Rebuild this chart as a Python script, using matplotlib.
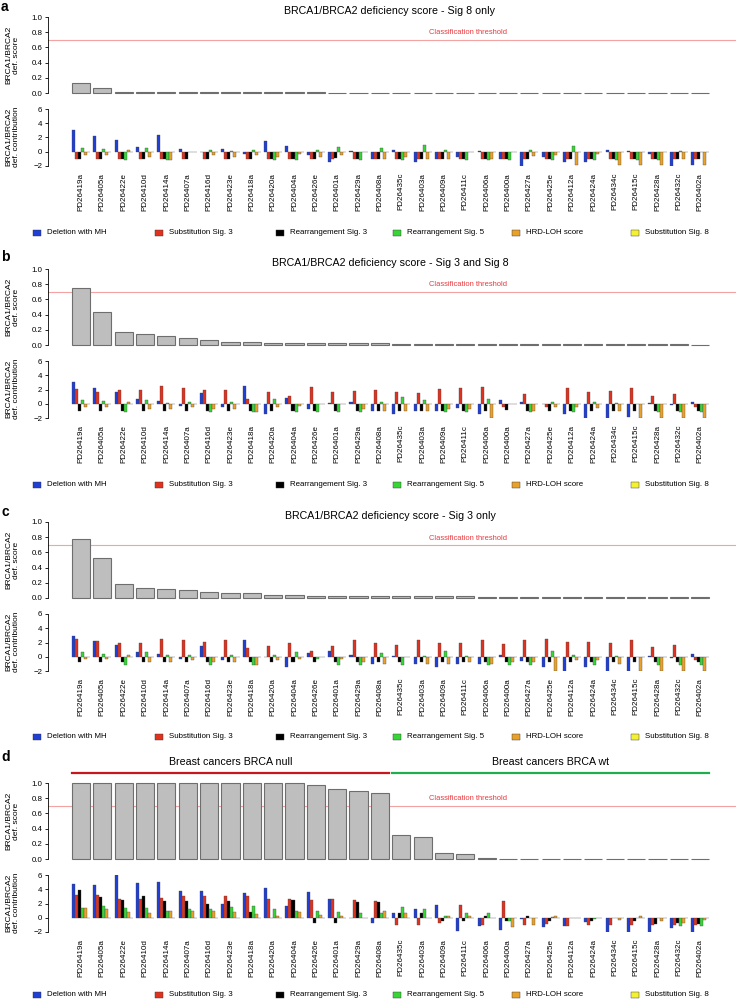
import matplotlib.pyplot as plt
from matplotlib.patches import Rectangle
import numpy as np

plt.rcParams['font.family'] = ['Liberation Sans', 'DejaVu Sans']

samples = ["PD26419a", "PD26405a", "PD26422e", "PD26410d", "PD26414a", "PD26407a",
           "PD26416d", "PD26423e", "PD26418a", "PD26420a", "PD26404a", "PD26426e",
           "PD26401a", "PD26429a", "PD26408a", "PD26435c", "PD26403a", "PD26409a",
           "PD26411c", "PD26406a", "PD26400a", "PD26427a", "PD26425e", "PD26412a",
           "PD26424a", "PD26434c", "PD26415c", "PD26428a", "PD26432c", "PD26402a"]

legend_labels = ["Deletion with MH", "Substitution Sig. 3", "Rearrangement Sig. 3",
                 "Rearrangement Sig. 5", "HRD-LOH score", "Substitution Sig. 8"]
colors = ["#1f3fd6", "#e0321f", "#000000", "#36d636", "#e9a12a", "#f4f032"]

titles = ["BRCA1/BRCA2 deficiency score - Sig 8 only",
          "BRCA1/BRCA2 deficiency score - Sig 3 and Sig 8",
          "BRCA1/BRCA2 deficiency score - Sig 3 only",
          None]

# ---- scores ----
score_a = [0.13, 0.06, 0.015, 0.012, 0.01, 0.008, 0.008, 0.008, 0.007, 0.007,
           0.007, 0.007, 0.006, 0.006, 0.006, 0.006, 0.006, 0.006, 0.006, 0.006,
           0.005, 0.005, 0.005, 0.005, 0.005, 0.005, 0.005, 0.005, 0.005, 0.005]
score_b = [0.75, 0.43, 0.17, 0.14, 0.12, 0.09, 0.07, 0.04, 0.035, 0.025,
           0.025, 0.02, 0.02, 0.02, 0.02, 0.015, 0.015, 0.015, 0.015, 0.01,
           0.01, 0.01, 0.01, 0.01, 0.008, 0.008, 0.008, 0.008, 0.008, 0.005]
score_c = [0.78, 0.52, 0.18, 0.13, 0.12, 0.10, 0.075, 0.06, 0.06, 0.045,
           0.035, 0.03, 0.03, 0.03, 0.025, 0.025, 0.02, 0.02, 0.02, 0.015,
           0.015, 0.015, 0.015, 0.015, 0.01, 0.01, 0.01, 0.01, 0.01, 0.008]
score_d = [1.0, 1.0, 1.0, 1.0, 1.0, 1.0, 1.0, 1.0, 1.0, 1.0,
           0.995, 0.97, 0.92, 0.89, 0.87, 0.32, 0.29, 0.08, 0.06, 0.01,
           0.005, 0.005, 0.004, 0.004, 0.004, 0.004, 0.004, 0.004, 0.004, 0.004]

# ---- contributions, panel a ----
a_del = [3.0, 2.2, 1.6, 0.7, 2.4, 0.4, 0.0, 0.4, -0.3, 1.5, 0.8, -0.4, -1.4, 0.15, -1.0,
         0.2, -1.5, -1.0, -0.8, 0.1, -1.0, -2.1, -0.8, -1.4, -1.4, 0.3, 0.1, -0.3, -2.5, -1.9]
a_sub3 = [-1.0] * 30
a_rs3 = [-1.0, -1.0, -1.0, -1.0, -1.0, -1.0, -1.0, -1.0, -1.0, -1.0, -1.0, -1.0, -0.9, -1.0, -1.0,
         -1.0, -1.0, -1.0, -1.0, -1.0, -1.0, -1.0, -1.0, -1.0, -1.0, -1.0, -1.0, -1.0, -1.0, -1.0]
a_rs5 = [0.5, 0.35, -1.1, 0.5, -1.1, -0.1, 0.2, 0.15, 0.3, -1.1, -1.1, 0.3, 0.7, -1.1, 0.5,
         -1.1, 0.9, 0.2, -1.1, -1.1, -1.1, 0.2, -1.1, 0.8, -1.1, -1.1, -1.1, -1.1, 0.1, 0.0]
a_hrd = [-0.4, -0.4, 0.2, -0.8, -1.1, 0.0, -0.4, -0.8, -0.4, -0.7, -0.3, -0.8, -0.4, 0.0, -1.0,
         -0.7, -1.0, -1.0, 0.0, -1.0, -0.1, -0.6, -0.5, -1.9, -0.3, -1.9, -1.9, -1.9, -1.0, -1.9]
a_sub8 = [0.0] * 30

# ---- contributions, panel b ----
b_del = [3.0, 2.2, 1.6, 0.7, 0.4, -0.3, 1.5, -0.4, 2.5, -1.5, 0.8, -0.8, 0.1, 0.3, -1.0,
         -1.5, -1.0, -1.0, -0.6, -1.4, 0.5, 0.2, 0.0, -1.4, -2.2, -2.5, -1.9, 0.1, -0.2, 0.3]
b_sub3 = [2.1, 1.6, 1.9, 1.9, 2.5, 2.2, 1.9, 1.9, 0.6, 1.6, 1.1, 2.4, 1.6, 1.8, 1.9,
          1.7, 1.5, 2.1, 2.2, 2.3, -0.4, 1.4, -0.5, 2.2, 1.6, 1.8, 2.2, 1.1, 1.3, -0.5]
b_rs3 = [-1.0] * 20 + [-0.9] + [-1.0] * 9
b_rs5 = [0.5, 0.35, -1.1, 0.5, 0.1, 0.3, -1.1, 0.2, -1.1, 0.7, -1.1, -1.1, -1.1, -1.1, 0.2,
         0.9, 0.5, -1.1, -1.1, 0.7, -0.1, -1.1, 0.2, -1.1, 0.2, 0.1, 0.0, -1.1, -1.1, -1.1]
b_hrd = [-0.4, -0.4, 0.2, -0.8, -0.8, -0.4, -0.7, -0.8, -1.1, -0.4, -0.3, 0.0, 0.0, -0.7, -1.0,
         -1.0, -1.0, -0.8, -0.8, -2.0, 0.0, -1.0, -0.4, -0.5, -0.6, -1.0, -2.0, -2.0, -2.0, -2.0]
b_sub8 = [0.0] * 30

# ---- contributions, panel c ----
c_del = [2.9, 2.2, 1.6, 0.7, 0.4, -0.3, 1.5, -0.4, 2.4, 0.0, -1.4, 0.5, 0.8, 0.3, -1.0,
         0.1, -1.0, -1.5, -1.0, -1.0, 0.2, -0.6, -1.5, -2.2, -1.4, -2.5, -2.0, 0.1, -0.2, 0.4]
c_sub3 = [2.5, 2.2, 2.0, 1.9, 2.5, 2.4, 2.1, 2.4, 1.2, 1.5, 2.0, 0.8, 1.5, 2.4, 2.0,
          1.6, 2.4, 2.0, 2.0, 2.4, 1.8, 2.4, 2.5, 2.1, 2.1, 1.9, 2.4, 1.3, 1.6, -0.5]
c_rs3 = [-0.8] * 30
c_rs5 = [0.6, 0.4, -1.1, 0.6, 0.2, 0.3, -1.1, 0.3, -1.1, 0.2, 0.7, -0.3, -1.1, -1.1, 0.5,
         -1.1, 0.1, 0.8, 0.1, -1.1, -1.1, -1.1, 0.8, 0.2, -1.1, 0.1, 0.0, -1.1, -1.1, -1.1]
c_hrd = [-0.3, -0.3, 0.3, -0.7, -0.7, -0.4, -0.7, -0.7, -1.1, -0.4, -0.3, 0.0, -0.3, -0.7, -1.0,
         0.0, -1.0, -1.0, -0.8, -1.0, -0.7, -0.7, -2.0, -0.5, -0.4, -1.0, -2.0, -2.0, -2.0, -2.0]
c_sub8 = [0.0] * 30

# ---- contributions, panel d ----
d_del = [4.7, 4.6, 6.0, 4.9, 5.0, 3.8, 3.8, 1.9, 3.5, 4.2, 1.6, 3.6, 2.7, 0.0, -0.7,
         0.6, 1.2, 1.8, -1.8, -1.1, -1.7, -0.2, -1.3, -1.2, -0.6, -2.3, -3.0, -2.0, -1.5, -2.2]
d_sub3 = [3.2, 3.2, 2.7, 2.7, 2.8, 3.0, 3.0, 3.0, 3.0, 2.7, 2.6, 2.5, 2.7, 2.5, 2.3,
          -1.0, -1.0, -0.8, 1.8, -1.0, 2.4, -1.0, -0.9, -1.1, -1.0, -1.0, -1.0, -1.0, -1.0, -1.0]
d_rs3 = [3.9, 2.9, 2.5, 3.1, 2.3, 2.4, 2.0, 2.4, 0.8, -0.1, 2.5, -0.8, -0.8, 2.2, 2.2,
         0.6, 0.7, -0.4, -0.4, 0.3, -0.4, 0.3, -0.5, -0.1, -0.4, 0.0, -0.5, -0.9, -0.8, -0.9]
d_rs5 = [1.4, 1.7, 1.4, 1.3, 1.0, 1.2, 1.2, 1.5, 1.6, 1.2, 0.9, 1.0, 0.8, 0.7, 0.6,
         1.5, 1.2, 0.3, 0.6, 0.6, -0.4, 0.0, 0.1, 0.0, -0.2, 0.0, 0.0, 0.0, -1.1, -1.1]
d_hrd = [1.3, 1.2, 0.8, 0.7, 1.0, 1.0, 0.9, 0.8, 0.5, 0.3, 0.8, 0.4, 0.3, 0.0, 1.0,
         0.7, 0.0, 0.2, 0.2, 0.0, -1.3, -1.0, 0.3, 0.0, 0.0, -0.3, 0.3, -0.5, -0.8, -0.3]
d_sub8 = [0.0] * 30

scores = [score_a, score_b, score_c, score_d]
contribs = [[a_del, a_sub3, a_rs3, a_rs5, a_hrd, a_sub8],
            [b_del, b_sub3, b_rs3, b_rs5, b_hrd, b_sub8],
            [c_del, c_sub3, c_rs3, c_rs5, c_hrd, c_sub8],
            [d_del, d_sub3, d_rs3, d_rs5, d_hrd, d_sub8]]

groups = ["Breast cancers BRCA null", "Breast cancers BRCA wt"]
group_sizes = [15, 15]
group_colors = ["#c8161d", "#1fae4f"]

W, H = 736, 1001
fig = plt.figure(figsize=(W / 100, H / 100), dpi=100)


def add_ax(l, t, r, b):
    return fig.add_axes([l / W, 1 - b / H, (r - l) / W, (b - t) / H])


def px(x, y):
    return x / W, 1 - y / H


x = np.arange(len(samples))
step = 21.35          # pixels between samples
x0 = 81               # pixel centre of first sample
left_px, right_px = 48, 736
xlim = ((left_px - x0) / step, (right_px - x0) / step)

offsets = [0, 252, 505, 766]
legend_y = [233, 485, 737, 995]
letter_y = [7, 257, 512, 757]
letters = ["a", "b", "c", "d"]

for k in range(4):
    off = offsets[k]

    # score panel
    ax = add_ax(left_px, 17 + off, right_px, 93 + off)
    bars = ax.bar(x, scores[k], width=0.85, color="#bebebe", edgecolor="#6e6e6e", linewidth=0.8)
    for b in bars:
        b.set_clip_on(False)
    ax.axhline(0.7, color="#f4a3a3", lw=0.8, zorder=0)
    ax.set_xlim(*xlim)
    ax.set_ylim(0, 1)
    ax.set_yticks([0, 0.2, 0.4, 0.6, 0.8, 1.0])
    ax.set_yticklabels(["0.0", "0.2", "0.4", "0.6", "0.8", "1.0"])
    ax.set_xticks([])
    for s in ["top", "right", "bottom"]:
        ax.spines[s].set_visible(False)
    ax.spines["left"].set_linewidth(0.6)
    ax.tick_params(axis="y", labelsize=5.7, length=2.5, width=0.6, pad=1.5)
    ax.set_facecolor("none")
    fig.text(*px(468, 33 + off), "Classification threshold", color="#e8383d",
             fontsize=5.4, ha="center", va="center")

    fig.text(*px(13, 55 + off), "BRCA1/BRCA2\ndef. score", rotation=90,
             fontsize=6, ha="center", va="center", linespacing=1.1)
    fig.text(*px(1, letter_y[k]), letters[k], fontsize=10, fontweight="bold",
             ha="left", va="center")

    if titles[k]:
        fig.text(*px(390, 11 + off), titles[k], fontsize=7.7, ha="center", va="center")
    else:
        start = 0
        for g, n, gc in zip(groups, group_sizes, group_colors):
            xa = x0 + (start - 0.43) * step
            xb = x0 + (start + n - 1 + 0.43) * step
            fig.add_artist(plt.Line2D([xa / W, xb / W], [1 - 773 / H] * 2, color=gc, lw=1.6))
            fig.text(*px((xa + xb) / 2, 762), g, fontsize=7.7, ha="center", va="center")
            start += n

    # contribution panel
    ax2 = add_ax(left_px, 109 + off, right_px, 166 + off)
    w = 0.85 / 6
    for j in range(6):
        ax2.bar(x - 0.425 + (j + 0.5) * w, contribs[k][j], width=w, color=colors[j],
                edgecolor="#444444", linewidth=0.25)
    ax2.set_xlim(*xlim)
    ax2.set_ylim(-2, 6)
    ax2.set_yticks([-2, 0, 2, 4, 6])
    ax2.set_xticks(x)
    ax2.set_xticklabels(samples, rotation=90, fontsize=5.8)
    ax2.tick_params(axis="x", length=0, pad=5)
    ax2.tick_params(axis="y", labelsize=5.7, length=2.5, width=0.6, pad=1.5)
    for s in ["top", "right", "bottom"]:
        ax2.spines[s].set_visible(False)
    ax2.spines["left"].set_linewidth(0.6)
    ax2.set_facecolor("none")
    fig.text(*px(13, 137 + off), "BRCA1/BRCA2\ndef. contribution", rotation=90,
             fontsize=6, ha="center", va="center", linespacing=1.1)

    # legend row
    ly = legend_y[k]
    sq_x = [33, 155, 276, 393, 512, 631]
    for j in range(6):
        fig.add_artist(Rectangle((sq_x[j] / W, 1 - (ly + 3) / H), 8 / W, 6 / H,
                                 facecolor=colors[j], edgecolor="#333333", lw=0.3,
                                 transform=fig.transFigure))
        fig.text(*px(sq_x[j] + 14, ly), legend_labels[j], fontsize=5.7,
                 ha="left", va="center")

fig.savefig("out.png", dpi=100)
